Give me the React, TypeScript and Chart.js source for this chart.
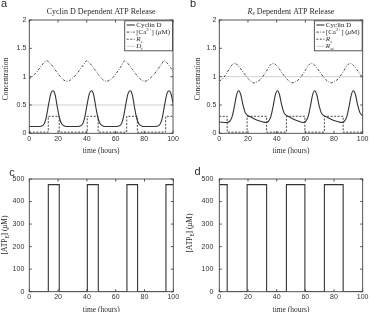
import React, { useEffect, useRef } from "react";
import { Chart, registerables } from "chart.js";

Chart.register(...registerables);

// ---- axis ticks ----
const timeTicks = [0, 20, 40, 60, 80, 100];
const concTicks = [0, 0.5, 1, 1.5, 2];
const atpTicks = [0, 100, 200, 300, 400, 500];

// ---- panel a: cyclin D dependent ATP release ----
const cycTimesA = [0, 6.5, 9.5, 11.5, 13.5, 15, 16.5, 18, 19.5, 21, 22.5, 24.5, 26.5,
  33.3, 36.3, 38.3, 40.3, 41.8, 43.3, 44.8, 46.3, 47.8, 49.3, 51.3, 53.3,
  60.2, 63.2, 65.2, 67.2, 68.7, 70.2, 71.7, 73.2, 74.7, 76.2, 78.2, 80.2,
  87.3, 90.3, 92.3, 94.3, 95.8, 97.3, 98.8, 100];
const cycValsA = [0.12, 0.12, 0.14, 0.25, 0.52, 0.7, 0.75, 0.68, 0.46, 0.27, 0.17, 0.13, 0.12,
  0.12, 0.14, 0.25, 0.52, 0.7, 0.75, 0.68, 0.46, 0.27, 0.17, 0.13, 0.12,
  0.12, 0.14, 0.25, 0.52, 0.7, 0.75, 0.68, 0.46, 0.27, 0.17, 0.13, 0.12,
  0.12, 0.14, 0.25, 0.52, 0.7, 0.75, 0.68, 0.53];
const caTimesA = [0, 2, 4, 6, 8, 10, 12, 14, 16, 18, 20, 22, 24, 26, 28, 30, 32, 34, 36, 38, 39.8,
  42, 44, 46, 48, 50, 52, 54, 56, 58, 60, 62, 64, 66.4, 68, 70, 72, 74, 76, 78, 80, 82, 84,
  86, 88, 90, 92, 93.8, 96, 98, 100];
const caValsA = [0.96, 1.0, 1.05, 1.11, 1.18, 1.24, 1.28, 1.25, 1.19, 1.12, 1.05, 0.99, 0.94, 0.92,
  0.93, 0.97, 1.02, 1.08, 1.15, 1.22, 1.28, 1.24, 1.18, 1.11, 1.04, 0.98, 0.93, 0.92, 0.94, 0.98,
  1.04, 1.11, 1.19, 1.28, 1.25, 1.19, 1.12, 1.05, 0.99, 0.94, 0.92, 0.93, 0.97, 1.02, 1.08, 1.15,
  1.22, 1.28, 1.24, 1.17, 1.1];
const releaseEdgesA = [13.2, 20.8, 40.3, 47.9, 67.8, 75.2, 94.9]; // on/off switching times (h)
const rsLow = 0.02;
const rsHigh = 0.3;
const dtLevel = 0.5;

// ---- panel b: R_s dependent ATP release ----
const cycTimesB = [0, 5.5, 7.5, 9, 10.5, 12, 13.5, 15, 16.5, 18, 19.5, 22.5, 26.5, 30.5,
  32.5, 34.5, 36, 37.5, 39, 40.5, 42, 43.5, 45, 46.5, 49.5, 53.5, 57,
  58.5, 60.5, 62, 63.5, 65, 66.5, 68, 69.5, 71, 72.5, 75.5, 79.5, 83.5,
  85.5, 87.5, 89, 90.5, 92, 93.5, 95, 96.5, 98, 99.5, 100];
const cycValsB = [0.2, 0.19, 0.22, 0.3, 0.47, 0.67, 0.75, 0.68, 0.5, 0.37, 0.32, 0.28, 0.23, 0.2,
  0.19, 0.22, 0.3, 0.47, 0.67, 0.75, 0.68, 0.5, 0.37, 0.32, 0.28, 0.23, 0.2,
  0.19, 0.22, 0.3, 0.47, 0.67, 0.75, 0.68, 0.5, 0.37, 0.32, 0.28, 0.23, 0.2,
  0.19, 0.22, 0.3, 0.47, 0.67, 0.75, 0.68, 0.5, 0.37, 0.32, 0.31];
const caTimesB = [0, 2.6, 4.6, 6.6, 8.6, 10.6, 12.6, 14.6, 16.6, 18.6, 20.6, 22.6, 23.9,
  26.4, 29.4, 31.4, 33.4, 35.4, 37.4, 39.4, 41.4, 43.4, 45.4, 47.4, 49.4, 50.7,
  53.2, 56.2, 58.2, 60.2, 62.2, 64.2, 66.2, 68.2, 70.2, 72.2, 74.2, 76.2, 77.7,
  80.2, 83.2, 85.2, 87.2, 89.2, 91.2, 93.2, 95.2, 97.2, 99.2, 100];
const caValsB = [0.92, 0.97, 1.04, 1.12, 1.2, 1.235, 1.21, 1.15, 1.08, 1.01, 0.95, 0.91, 0.89,
  0.91, 0.97, 1.04, 1.12, 1.2, 1.235, 1.21, 1.15, 1.08, 1.01, 0.95, 0.91, 0.89,
  0.91, 0.97, 1.04, 1.12, 1.2, 1.235, 1.21, 1.15, 1.08, 1.01, 0.95, 0.91, 0.89,
  0.91, 0.97, 1.04, 1.12, 1.2, 1.235, 1.21, 1.15, 1.08, 1.01, 0.99];
const releaseEdgesB = [5.5, 19.4, 33, 46.8, 59.7, 73.3, 86.4]; // starts in the "on" state
const rscLevel = 1.0;

// ---- panels c/d: extracellular ATP ----
const atpLow = 0;
const atpHigh = 475;

// ---------------------------------------------------------------------------

type Run = { t: string; sub?: boolean; sup?: boolean; it?: boolean };
type Pt = { x: number; y: number };

const SERIF = '"Liberation Serif", "DejaVu Serif", serif';
const SANS = '"Liberation Sans", Arial, sans-serif';
const INK = "#2a2a2a";
const LINE = "#333";

function zipPoints(times: number[], values: number[]): Pt[] {
  return times.map((t, i) => ({ x: t, y: values[i] }));
}

// square wave from the switching times
function stepPoints(edges: number[], startOn: boolean, low: number, high: number): Pt[] {
  let on = startOn;
  const pts: Pt[] = [{ x: 0, y: on ? high : low }];
  for (const e of edges) {
    pts.push({ x: e, y: on ? high : low });
    on = !on;
    pts.push({ x: e, y: on ? high : low });
  }
  pts.push({ x: 100, y: on ? high : low });
  return pts;
}

function levelPoints(level: number): Pt[] {
  return [{ x: 0, y: level }, { x: 100, y: level }];
}

function runFont(r: Run, size: number) {
  const s = r.sub || r.sup ? size * 0.7 : size;
  return `${r.it ? "italic " : ""}${s}px ${SERIF}`;
}

function runsWidth(ctx: CanvasRenderingContext2D, runs: Run[], size: number) {
  let w = 0;
  for (const r of runs) {
    ctx.font = runFont(r, size);
    w += ctx.measureText(r.t).width;
  }
  return w;
}

function drawRuns(ctx: CanvasRenderingContext2D, runs: Run[], x: number, y: number, size: number, align: "left" | "center") {
  const w = runsWidth(ctx, runs, size);
  let cx = align === "center" ? x - w / 2 : x;
  ctx.textAlign = "left";
  ctx.textBaseline = "middle";
  for (const r of runs) {
    ctx.font = runFont(r, size);
    const dy = r.sub ? size * 0.3 : r.sup ? -size * 0.35 : 0;
    ctx.fillText(r.t, cx, y + dy);
    cx += ctx.measureText(r.t).width;
  }
}

interface Series {
  points: Pt[];
  color: string;
  dash: number[];
  width: number;
  smooth: boolean;
  label: Run[];
}

interface Panel {
  left: number;
  top: number;
  width: number;
  height: number;
  area: { l: number; t: number; r: number; b: number };
  yMin: number;
  yMax: number;
  yTicks: number[];
  yTickPad: number;
  letter: string;
  letterPos: [number, number];
  title?: Run[];
  yLabel: Run[];
  yLabelPos: [number, number];
  legend: boolean;
  series: Series[];
}

const solid: number[] = [];
const caDash = [2.5, 1.5, 0.8, 1.5];
const rsDash = [2, 1.5];

const cycLabel: Run[] = [{ t: "Cyclin D" }];
const caLabel: Run[] = [{ t: "[Ca" }, { t: "2+", sup: true }, { t: "] (" }, { t: "μ", it: true }, { t: "M)" }];
const atpLabel: Run[] = [{ t: "[ATP" }, { t: "E", sub: true }, { t: "] (" }, { t: "μ", it: true }, { t: "M)" }];
const concLabel: Run[] = [{ t: "Concentration" }];
const timeLabel: Run[] = [{ t: "time (hours)" }];

const panels: Panel[] = [
  {
    left: 0, top: 0, width: 185, height: 156,
    area: { l: 29.3, t: 20, r: 173, b: 133.3 },
    yMin: 0, yMax: 2, yTicks: concTicks, yTickPad: 3,
    letter: "a", letterPos: [4, 4],
    title: [{ t: "Cyclin D Dependent ATP Release" }],
    yLabel: concLabel, yLabelPos: [6, 79],
    legend: true,
    series: [
      { points: zipPoints(cycTimesA, cycValsA), color: LINE, dash: solid, width: 1.1, smooth: true, label: cycLabel },
      { points: zipPoints(caTimesA, caValsA), color: LINE, dash: caDash, width: 0.9, smooth: true, label: caLabel },
      { points: stepPoints(releaseEdgesA, false, rsLow, rsHigh), color: LINE, dash: rsDash, width: 0.9, smooth: false, label: [{ t: "R", it: true }, { t: "s", sub: true, it: true }] },
      { points: levelPoints(dtLevel), color: "#c4c4c4", dash: solid, width: 0.8, smooth: false, label: [{ t: "D", it: true }, { t: "t", sub: true, it: true }] },
    ],
  },
  {
    left: 185, top: 0, width: 185, height: 156,
    area: { l: 34.3, t: 20, r: 179, b: 133.3 },
    yMin: 0, yMax: 2, yTicks: concTicks, yTickPad: 3,
    letter: "b", letterPos: [8, 4],
    title: [{ t: "R", it: true }, { t: "s", sub: true, it: true }, { t: " Dependent ATP Release" }],
    yLabel: concLabel, yLabelPos: [13.5, 79],
    legend: true,
    series: [
      { points: zipPoints(cycTimesB, cycValsB), color: LINE, dash: solid, width: 1.1, smooth: true, label: cycLabel },
      { points: zipPoints(caTimesB, caValsB), color: LINE, dash: caDash, width: 0.9, smooth: true, label: caLabel },
      { points: stepPoints(releaseEdgesB, true, rsLow, rsHigh), color: LINE, dash: rsDash, width: 0.9, smooth: false, label: [{ t: "R", it: true }, { t: "s", sub: true, it: true }] },
      { points: levelPoints(rscLevel), color: "#c4c4c4", dash: solid, width: 0.8, smooth: false, label: [{ t: "R", it: true }, { t: "sc", sub: true, it: true }] },
    ],
  },
  {
    left: 0, top: 155, width: 185, height: 157,
    area: { l: 29.3, t: 24, r: 173.3, b: 136.7 },
    yMin: 0, yMax: 500, yTicks: atpTicks, yTickPad: 5,
    letter: "c", letterPos: [12, 18],
    yLabel: atpLabel, yLabelPos: [5, 80],
    legend: false,
    series: [
      { points: stepPoints(releaseEdgesA, false, atpLow, atpHigh), color: LINE, dash: solid, width: 1.1, smooth: false, label: atpLabel },
    ],
  },
  {
    left: 185, top: 155, width: 185, height: 157,
    area: { l: 34.3, t: 24, r: 179, b: 136.7 },
    yMin: 0, yMax: 500, yTicks: atpTicks, yTickPad: 6,
    letter: "d", letterPos: [12.5, 17],
    yLabel: atpLabel, yLabelPos: [5, 78],
    legend: false,
    series: [
      { points: stepPoints(releaseEdgesB, true, atpLow, atpHigh), color: LINE, dash: solid, width: 1.1, smooth: false, label: atpLabel },
    ],
  },
];

function makeDecor(p: Panel) {
  return {
    id: "panelDecor",
    afterDraw(chart: any) {
      const ctx: CanvasRenderingContext2D = chart.ctx;
      const { left, top, right, bottom } = chart.chartArea;
      const xs = chart.scales.x;
      const ys = chart.scales.y;
      ctx.save();

      // axes box
      ctx.strokeStyle = "#444";
      ctx.lineWidth = 0.9;
      ctx.setLineDash([]);
      ctx.strokeRect(left, top, right - left, bottom - top);

      // inward tick marks on all four sides
      const tl = 2.5;
      ctx.beginPath();
      for (const v of timeTicks) {
        const x = xs.getPixelForValue(v);
        ctx.moveTo(x, bottom);
        ctx.lineTo(x, bottom - tl);
        ctx.moveTo(x, top);
        ctx.lineTo(x, top + tl);
      }
      for (const v of p.yTicks) {
        const y = ys.getPixelForValue(v);
        ctx.moveTo(left, y);
        ctx.lineTo(left + tl, y);
        ctx.moveTo(right, y);
        ctx.lineTo(right - tl, y);
      }
      ctx.stroke();

      ctx.fillStyle = INK;
      // panel letter
      ctx.font = `11px ${SANS}`;
      ctx.textAlign = "center";
      ctx.textBaseline = "middle";
      ctx.fillText(p.letter, p.letterPos[0], p.letterPos[1]);

      // title
      if (p.title) drawRuns(ctx, p.title, (left + right) / 2, 11.5, 8, "center");

      // x axis label
      drawRuns(ctx, timeLabel, (left + right) / 2, bottom + 18, 7.5, "center");

      // y axis label (rotated)
      ctx.save();
      ctx.translate(p.yLabelPos[0], p.yLabelPos[1]);
      ctx.rotate(-Math.PI / 2);
      drawRuns(ctx, p.yLabel, 0, 0, 7.5, "center");
      ctx.restore();

      // legend
      if (p.legend) {
        const size = 7;
        let maxW = 0;
        for (const s of p.series) maxW = Math.max(maxW, runsWidth(ctx, s.label, size));
        const bw = maxW + 14;
        const bh = 30;
        const bx = right - bw - 0.5;
        const by = top + 0.8;
        ctx.fillStyle = "#fff";
        ctx.fillRect(bx, by, bw, bh);
        ctx.strokeStyle = "#444";
        ctx.lineWidth = 0.9;
        ctx.setLineDash([]);
        ctx.strokeRect(bx, by, bw, bh);
        p.series.forEach((s, i) => {
          const cy = by + 4.2 + i * 7.1;
          ctx.strokeStyle = s.color;
          ctx.lineWidth = s.width;
          ctx.setLineDash(s.dash);
          ctx.beginPath();
          ctx.moveTo(bx + 2, cy);
          ctx.lineTo(bx + 10, cy);
          ctx.stroke();
          ctx.setLineDash([]);
          ctx.fillStyle = INK;
          drawRuns(ctx, s.label, bx + 11.5, cy, size, "left");
        });
      }
      ctx.restore();
    },
  };
}

function PanelChart({ p }: { p: Panel }) {
  const ref = useRef<HTMLCanvasElement | null>(null);

  useEffect(() => {
    const canvas = ref.current;
    if (!canvas) return;
    const a = p.area;
    const chart = new Chart(canvas, {
      type: "line",
      data: {
        datasets: p.series.map((s) => ({
          data: s.points,
          borderColor: s.color,
          borderDash: s.dash,
          borderWidth: s.width,
          pointRadius: 0,
          fill: false,
          tension: 0,
          cubicInterpolationMode: s.smooth ? "monotone" : "default",
        })),
      },
      options: {
        animation: false,
        responsive: false,
        devicePixelRatio: 1,
        events: [],
        layout: { padding: { left: 0, top: a.t, right: p.width - a.r, bottom: 0 } },
        plugins: {
          legend: { display: false },
          tooltip: { enabled: false },
          title: { display: false },
        },
        scales: {
          x: {
            type: "linear",
            min: 0,
            max: 100,
            grid: { display: false, drawTicks: false },
            border: { display: false },
            ticks: {
              font: { family: SANS, size: 7 },
              color: "#333",
              padding: 1.5,
              autoSkip: false,
              maxRotation: 0,
              callback: (v: any) => String(v),
            },
            afterBuildTicks: (sc: any) => {
              sc.ticks = timeTicks.map((v) => ({ value: v }));
            },
            afterFit: (sc: any) => {
              sc.height = p.height - a.b;
            },
          },
          y: {
            type: "linear",
            min: p.yMin,
            max: p.yMax,
            grid: { display: false, drawTicks: false },
            border: { display: false },
            ticks: {
              font: { family: SANS, size: 7 },
              color: "#333",
              padding: p.yTickPad,
              autoSkip: false,
              callback: (v: any) => String(v),
            },
            afterBuildTicks: (sc: any) => {
              sc.ticks = p.yTicks.map((v) => ({ value: v }));
            },
            afterFit: (sc: any) => {
              sc.width = a.l;
            },
          },
        },
      } as any,
      plugins: [makeDecor(p)],
    });
    return () => chart.destroy();
  }, [p]);

  return (
    <canvas
      ref={ref}
      width={p.width}
      height={p.height}
      style={{ position: "absolute", left: p.left, top: p.top, width: p.width, height: p.height }}
    />
  );
}

export default function App() {
  return (
    <div style={{ position: "fixed", left: 0, top: 0, width: 370, height: 312, background: "#fff", overflow: "hidden" }}>
      {panels.map((p) => (
        <PanelChart key={p.letter} p={p} />
      ))}
    </div>
  );
}
